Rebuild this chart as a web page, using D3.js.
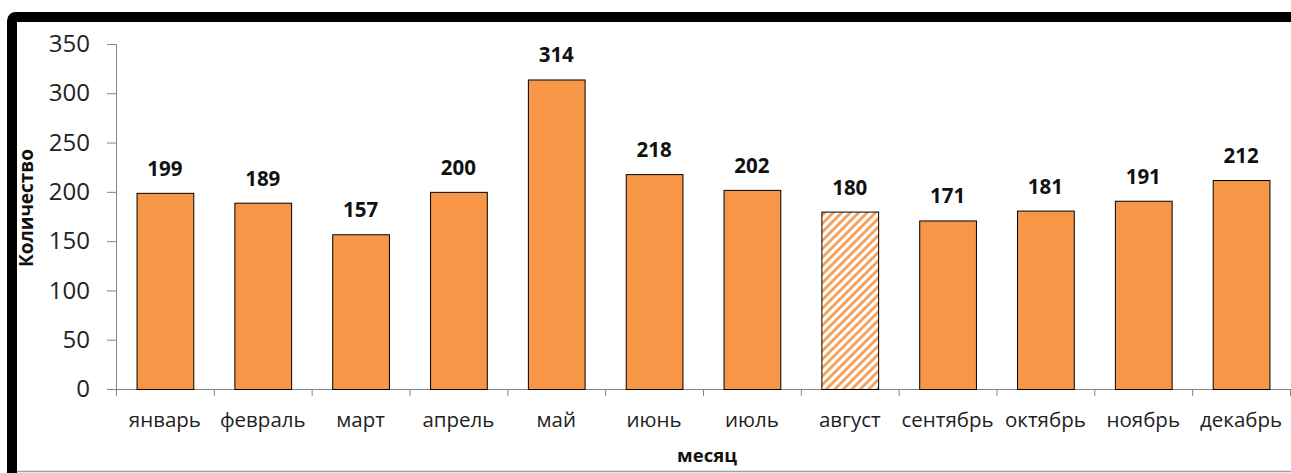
<!DOCTYPE html>
<html>
<head>
<meta charset="utf-8">
<script src="https://cdn.jsdelivr.net/npm/d3@7"></script>
<style>
  html, body { margin: 0; padding: 0; background: #fff; }
  svg { display: block; }
</style>
</head>
<body>
<svg id="chart" width="1291" height="473"></svg>
<script>
const months = ["январь","февраль","март","апрель","май","июнь","июль","август","сентябрь","октябрь","ноябрь","декабрь"];
const counts = [199, 189, 157, 200, 314, 218, 202, 180, 171, 181, 191, 212];
const hatched = ["август"];
const yTicks = [0, 50, 100, 150, 200, 250, 300, 350];
const xTitle = "месяц";
const yTitle = "Количество";

(function () {
const W = 1291, H = 473;
const svg = d3.select("#chart");
const font = "'Open Sans', sans-serif";

// frame
svg.append("rect").attr("x", 0).attr("y", 0).attr("width", W).attr("height", H).attr("fill", "#fff");
svg.append("line").attr("x1", 17).attr("x2", W).attr("y1", 471.5).attr("y2", 471.5)
  .attr("stroke", "#a0a0a0").attr("stroke-width", 1.5);
svg.append("path")
  .attr("d", `M12,${H} L12,21 Q12,17 16,17 L${W},17`)
  .attr("fill", "none").attr("stroke", "#000").attr("stroke-width", 10);

const defs = svg.append("defs");
const pat = defs.append("pattern").attr("id", "hatch").attr("patternUnits", "userSpaceOnUse")
  .attr("width", 6).attr("height", 6).attr("patternTransform", "rotate(45)");
pat.append("rect").attr("width", 6).attr("height", 6).attr("fill", "#fff");
pat.append("line").attr("x1", 1.5).attr("y1", 0).attr("x2", 1.5).attr("y2", 6)
  .attr("stroke", "#F79646").attr("stroke-width", 2.6);

const pl = 116, pr = 1290, pt = 44, pb = 389;
const x = d3.scaleBand().domain(months).range([pl, pr]).paddingInner(0.42).paddingOuter(0.21);
const y = d3.scaleLinear().domain([0, 350]).range([pb, pt]);

// y axis
const yAxis = svg.append("g").attr("transform", `translate(${pl},0)`)
  .call(d3.axisLeft(y).tickValues(yTicks).tickSize(9).tickPadding(17));
yAxis.select(".domain").attr("stroke", "#868686");
yAxis.selectAll(".tick line").attr("stroke", "#868686");
yAxis.selectAll(".tick text").attr("font-family", font).attr("font-size", 24).attr("fill", "#222");

// x axis: band boundaries ticks
const xb = svg.append("g").attr("transform", `translate(0,${pb})`);
xb.append("line").attr("x1", pl - 9).attr("x2", pr).attr("y1", 0.5).attr("y2", 0.5).attr("stroke", "#868686");
const bstep = x.step();
xb.selectAll("line.b").data(d3.range(months.length + 1)).join("line")
  .attr("x1", i => pl + i * bstep + 0.5).attr("x2", i => pl + i * bstep + 0.5)
  .attr("y1", 0).attr("y2", 7).attr("stroke", "#868686");
xb.selectAll("text").data(months).join("text")
  .attr("x", d => x(d) + x.bandwidth() / 2).attr("y", 38)
  .attr("text-anchor", "middle").attr("font-family", font).attr("font-size", 20.5).attr("fill", "#222")
  .text(d => d);

// bars
const data = months.map((m, i) => ({ m, v: counts[i] }));
svg.selectAll("rect.bar").data(data).join("rect").attr("class", "bar")
  .attr("x", d => x(d.m) + 0.5).attr("y", d => y(d.v) + 0.5)
  .attr("width", x.bandwidth()).attr("height", d => y(0) - y(d.v))
  .attr("fill", d => hatched.includes(d.m) ? "url(#hatch)" : "#F79646")
  .attr("stroke", "#000").attr("stroke-width", 1);

svg.selectAll("text.val").data(data).join("text").attr("class", "val")
  .attr("x", d => x(d.m) + x.bandwidth() / 2).attr("y", d => y(d.v) - 17)
  .attr("text-anchor", "middle").attr("font-family", font).attr("font-weight", "bold")
  .attr("font-size", 20.5).attr("fill", "#111").text(d => d.v);

// titles
svg.append("text").attr("x", (pl + pr) / 2 + 4).attr("y", 462)
  .attr("text-anchor", "middle").attr("font-family", font).attr("font-weight", "bold")
  .attr("font-size", 18.5).attr("fill", "#111").text(xTitle);
svg.append("text").attr("transform", `translate(33,208) rotate(-90)`)
  .attr("text-anchor", "middle").attr("font-family", font).attr("font-weight", "bold")
  .attr("font-size", 19).attr("fill", "#111").text(yTitle);
})();
</script>
</body>
</html>
